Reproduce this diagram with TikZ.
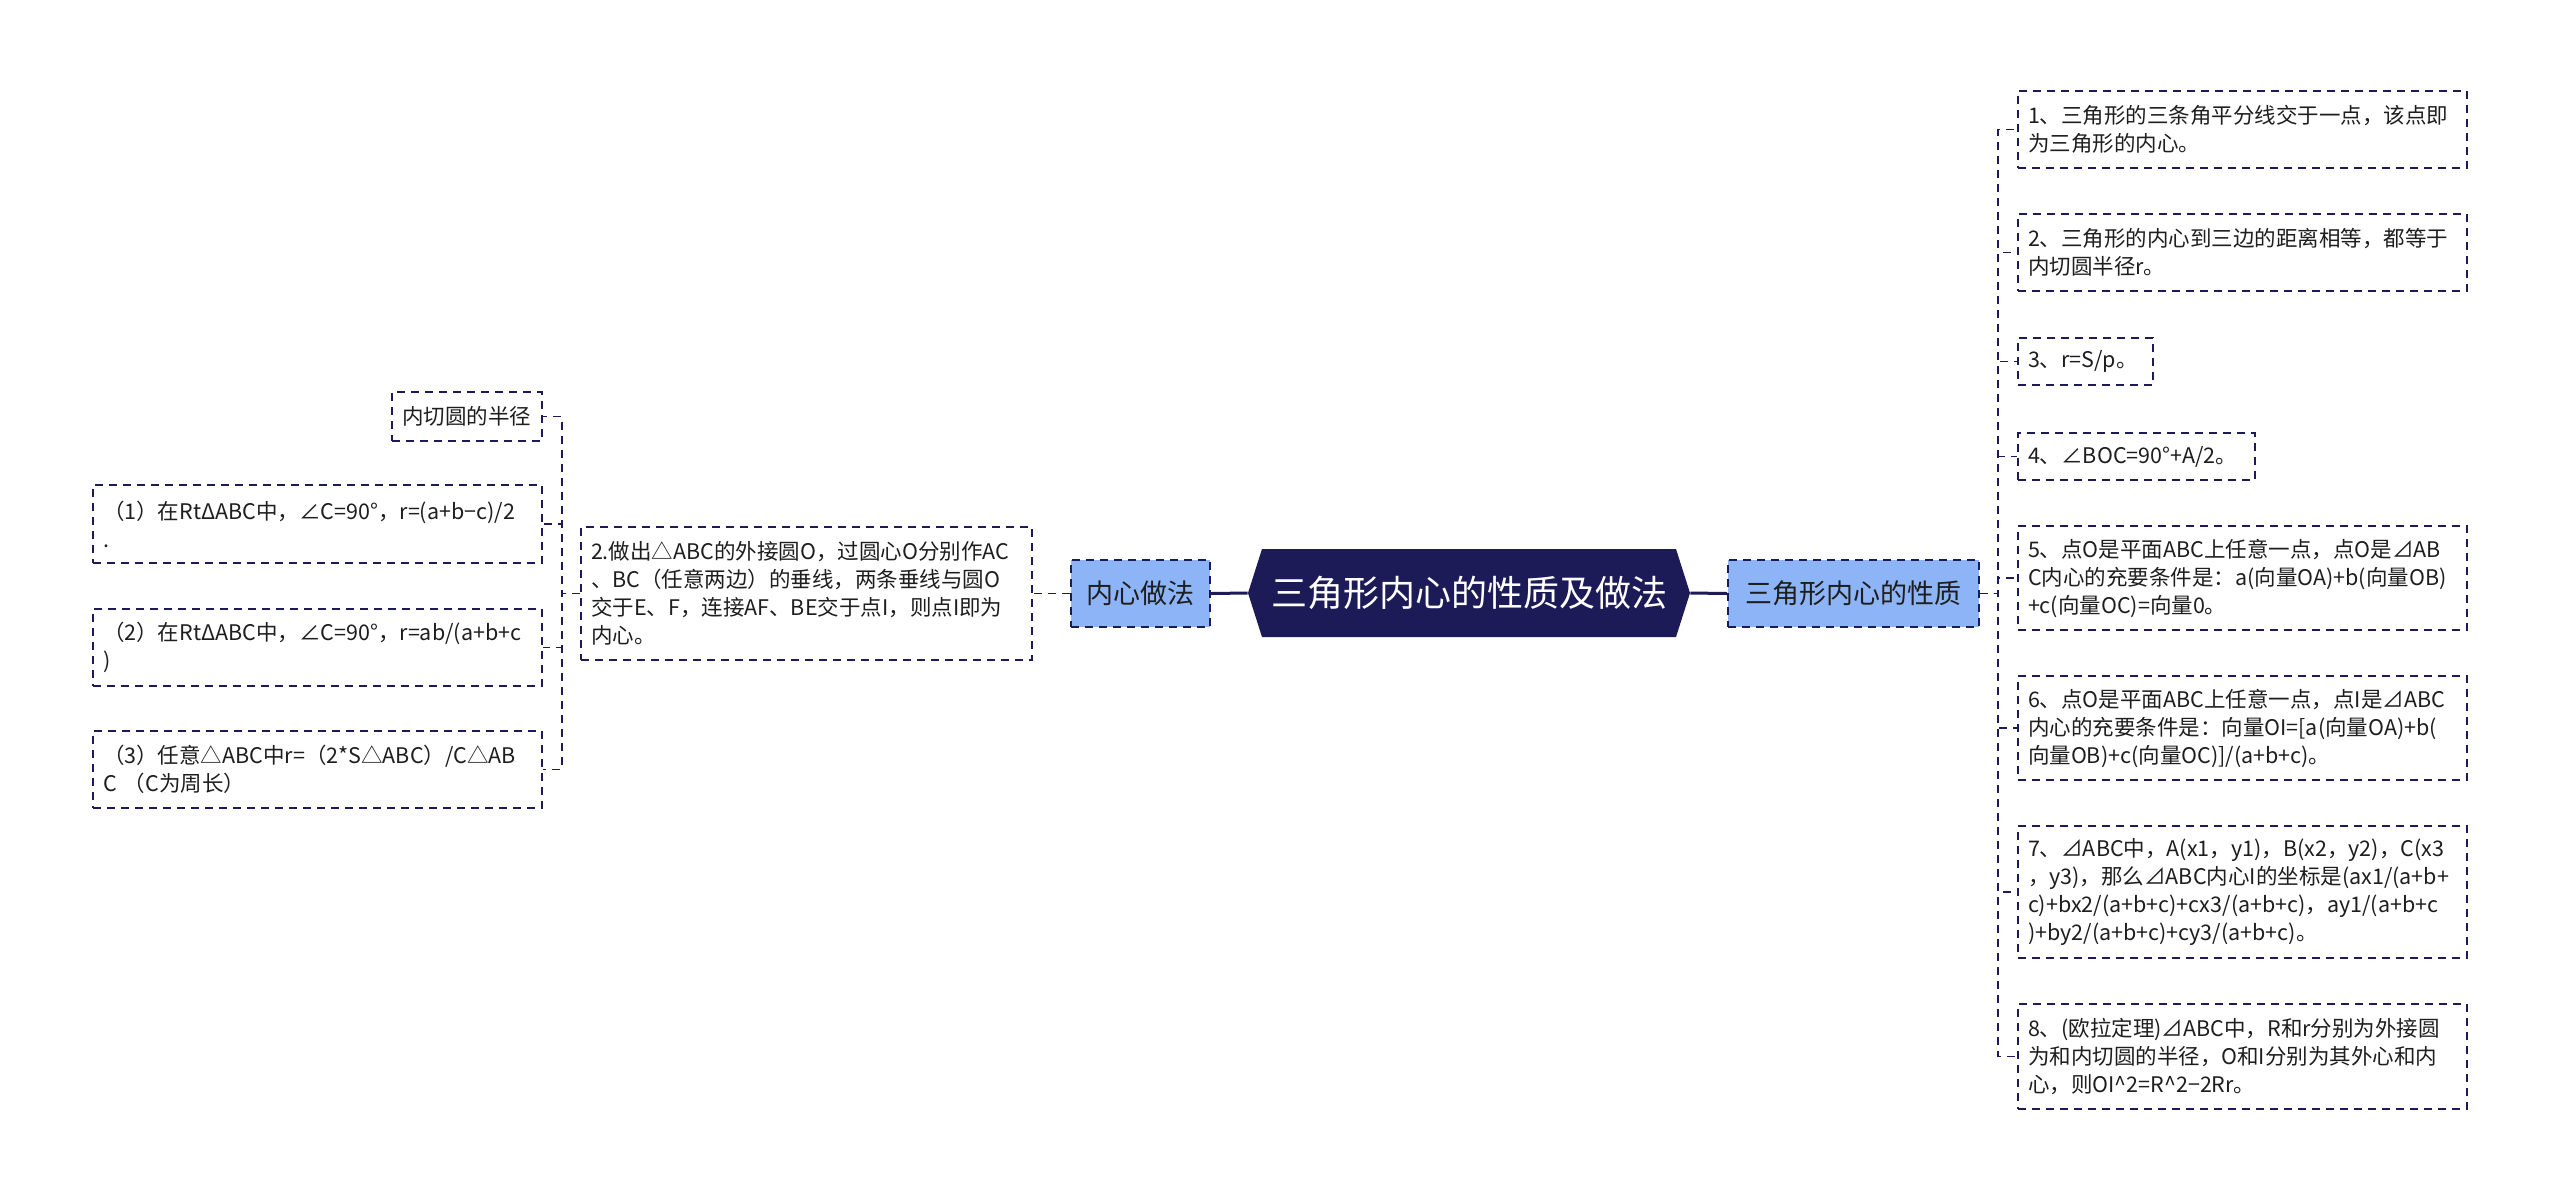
\documentclass[tikz,border=0pt]{standalone}
\usepackage{fontspec}
\setmainfont{Noto Sans CJK SC}
\usepackage{tikz}
\tikzstyle{mindmap} = [x = .5pt, y = -.5pt]
\definecolor{rootColor}{RGB}{28,27,87}
\definecolor{topicColor}{RGB}{140,180,247}
\definecolor{lineColor}{RGB}{28,27,87}
\definecolor{textColor}{RGB}{30,30,30}
\tikzstyle{rootText} = [color=white, font=\fontsize{18}{22}\selectfont, inner sep=0pt]
\tikzstyle{topicBox} = [draw=lineColor, fill=topicColor, line width=.9pt, dash pattern=on 4pt off 3pt, text=textColor, font=\fontsize{13.5}{16}\selectfont, inner sep=0pt]
\tikzstyle{leafBox} = [draw=lineColor, fill=white, line width=.9pt, dash pattern=on 4pt off 3pt, text=textColor, font=\fontsize{10.75}{14}\selectfont, align=left, inner xsep=5pt, inner ysep=0pt]
\tikzstyle{rootLink} = [color=lineColor, line width=1.5pt]
\tikzstyle{leafLink} = [color=lineColor, line width=.9pt, dash pattern=on 4pt off 3pt]
\newcommand{\topicNode}[6]{\node [topicBox, minimum width=#4pt, minimum height=#5pt] (#1) at (#2,#3) {#6};}
\newcommand{\leafNode}[6]{\node [leafBox, text width=#4pt, minimum height=#5pt] (#1) at (#2,#3) {#6};}

\begin{document}
\begin{tikzpicture}[mindmap]
        \fill [white] (0,0) rectangle (2560,1201);
        \useasboundingbox (0,0) rectangle (2560,1201);

        \fill [rootColor] (1248,593) -- (1262,549) -- (1676,549) -- (1690,593) -- (1676,637) -- (1262,637) -- cycle;
        \node [rootText, minimum width=221pt, minimum height=44pt] (root) at (1469,593) {三角形内心的性质及做法};

        \topicNode{howTopic}{1140.5}{593.5}{69.5}{33.5}{内心做法}
        \topicNode{propTopic}{1853.5}{593.5}{125.5}{33.5}{三角形内心的性质}

        \leafNode{howStep}{806.5}{593.5}{215.5}{66.5}{2.做出△ABC的外接圆O，过圆心O分别作AC\\、BC（任意两边）的垂线，两条垂线与圆O\\交于E、F，连接AF、BE交于点I，则点I即为\\内心。}
        \leafNode{radius}{467}{416.5}{65}{24.5}{内切圆的半径}
        \leafNode{case1}{317.5}{524}{214.5}{39}{（1）在RtΔABC中，∠C=90°，r=(a+b−c)/2\\.}
        \leafNode{case2}{317.5}{647.5}{214.5}{38.5}{（2）在RtΔABC中，∠C=90°，r=ab/(a+b+c\\)}
        \leafNode{case3}{317.5}{769.5}{214.5}{38.5}{（3）任意△ABC中r=（2*S△ABC）/C△AB\\C （C为周长）}

        \leafNode{prop1}{2242.5}{129.5}{214.5}{38.5}{1、三角形的三条角平分线交于一点，该点即\\为三角形的内心。}
        \leafNode{prop2}{2242.5}{252.5}{214.5}{38.5}{2、三角形的内心到三边的距离相等，都等于\\内切圆半径r。}
        \leafNode{prop3}{2085.5}{361.5}{57.5}{23.5}{3、r=S/p。}
        \leafNode{prop4}{2136.5}{456.5}{108.5}{23.5}{4、∠BOC=90°+A/2。}
        \leafNode{prop5}{2242.5}{578}{214.5}{52}{5、点O是平面ABC上任意一点，点O是⊿AB\\C内心的充要条件是：a(向量OA)+b(向量OB)\\+c(向量OC)=向量0。}
        \leafNode{prop6}{2242.5}{728}{214.5}{52}{6、点O是平面ABC上任意一点，点I是⊿ABC\\内心的充要条件是：向量OI=[a(向量OA)+b(\\向量OB)+c(向量OC)]/(a+b+c)。}
        \leafNode{prop7}{2242.5}{892}{214.5}{66}{7、⊿ABC中，A(x1，y1)，B(x2，y2)，C(x3\\，y3)，那么⊿ABC内心I的坐标是(ax1/(a+b+\\c)+bx2/(a+b+c)+cx3/(a+b+c)，ay1/(a+b+c\\)+by2/(a+b+c)+cy3/(a+b+c)。}
        \leafNode{prop8}{2242.5}{1056.5}{214.5}{52.5}{8、(欧拉定理)⊿ABC中，R和r分别为外接圆\\为和内切圆的半径，O和I分别为其外心和内\\心，则OI\textasciicircum2=R\textasciicircum2−2Rr。}

        \draw [rootLink] (root.west) -- (howTopic.east);
        \draw [rootLink] (root.east) -- (propTopic.west);
        \draw [leafLink] (howTopic.west) -- (howStep.east);

        \coordinate (howFork) at (562,593.5);
        \foreach \leaf in {radius,case1,case2,case3} {
          \draw [leafLink] (howStep.west) -- (howFork) |- (\leaf.east);
        }
        \coordinate (propFork) at (1998,593.5);
        \foreach \i in {1,...,8} {
          \draw [leafLink] (propTopic.east) -- (propFork) |- (prop\i.west);
        }
      \end{tikzpicture}
\end{document}
